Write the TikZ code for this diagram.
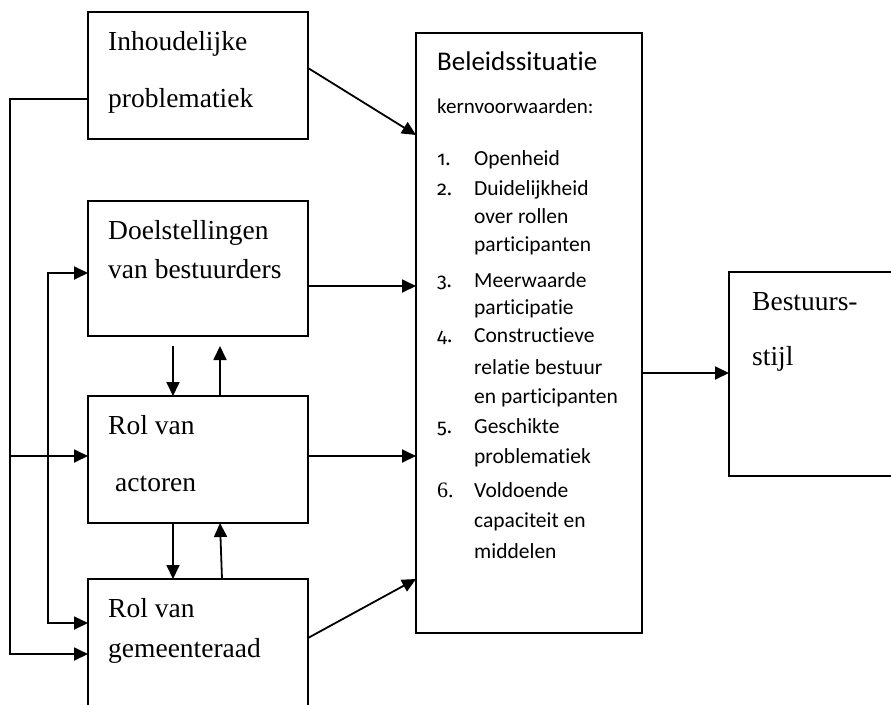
\documentclass[tikz,border=0pt]{standalone}
\usepackage{fontspec}
\setmainfont{Liberation Serif}
\newfontfamily\sansf[Ligatures=NoCommon]{Carlito}
\newfontfamily\numf[Numbers=OldStyle]{Fira Sans}
\usetikzlibrary{arrows.meta}
\newcommand\serifsz{\fontsize{27.5pt}{32pt}\selectfont}
\newcommand\itemsz{\fontsize{21.5pt}{26pt}\selectfont}
\begin{document}
\begin{tikzpicture}[x=1pt,y=-1pt,
  box/.style={draw, line width=1.6pt, inner sep=0pt, outer sep=0pt},
  ln/.style={line width=1.8pt},
  arr/.style={line width=1.8pt, -{Triangle[length=14pt,width=13pt]}},
  txt/.style={inner sep=0pt, anchor=base west, font=\serifsz},
  stxt/.style={inner sep=0pt, anchor=base west, font=\sansf\itemsz},
  ntxt/.style={inner sep=0pt, anchor=base west, font=\numf\fontsize{20pt}{24pt}\selectfont}]
\useasboundingbox (0,0) rectangle (891,704);
% boxes
\node[box, minimum width=220pt, minimum height=127pt] (b1) at (198,75.5) {};
\node[box, minimum width=220pt, minimum height=135pt] (b2) at (198,268.5) {};
\node[box, minimum width=220pt, minimum height=127pt] (b3) at (198,459.5) {};
\node[box, minimum width=220pt, minimum height=141pt] (b4) at (198,649.5) {};
\node[box, minimum width=226pt, minimum height=600pt] (big) at (529,333) {};
\node[box, minimum width=171pt, minimum height=204pt] (b6) at (814.5,374) {};
% texts
\node[txt] (t1a) at (108,50) {Inhoudelijke};
\node[txt] (t1b) at (108,107) {problematiek};
\node[txt] (t2a) at (108,239) {Doelstellingen};
\node[txt] (t2b) at (108,278) {van bestuurders};
\node[txt] (t3a) at (108,434) {Rol van};
\node[txt] (t3b) at (115,491) {actoren};
\node[txt] (t4a) at (108,617) {Rol van};
\node[txt] (t4b) at (108,657) {gemeenteraad};
\node[txt] (t6a) at (752,310) {Bestuurs-};
\node[txt] (t6b) at (752,365) {stijl};
\node[stxt, font=\sansf\fontsize{27pt}{32pt}\selectfont] (h1) at (437,70) {Beleidssituatie};
\node[stxt, font=\sansf\fontsize{21pt}{26pt}\selectfont] (h2) at (437,113) {kernvoorwaarden:};
\node[ntxt] (n1) at (437,165) {1.};
\node[stxt] (i1) at (474,165) {Openheid};
\node[ntxt] (n2) at (437,195) {2.};
\node[stxt] (i2a) at (474,195) {Duidelijkheid};
\node[stxt] (i2b) at (474,223) {over rollen};
\node[stxt] (i2c) at (474,251) {participanten};
\node[ntxt] (n3) at (437,287) {3.};
\node[stxt] (i3a) at (474,287) {Meerwaarde};
\node[stxt] (i3b) at (474,314) {participatie};
\node[ntxt] (n4) at (437,342) {4.};
\node[stxt] (i4a) at (474,342) {Constructieve};
\node[stxt] (i4b) at (474,374) {relatie bestuur};
\node[stxt] (i4c) at (474,403) {en participanten};
\node[ntxt] (n5) at (437,433) {5.};
\node[stxt] (i5a) at (474,433) {Geschikte};
\node[stxt] (i5b) at (474,463) {problematiek};
\node[txt, font=\fontsize{22pt}{26pt}\selectfont] (n6) at (437,497) {6.};
\node[stxt] (i6a) at (474,497) {Voldoende};
\node[stxt] (i6b) at (474,527) {capaciteit en};
\node[stxt] (i6c) at (474,558) {middelen};
% left feedback lines
\draw[arr] (b1.west |- 0,99) -- (10,99) -- (10,654) -- (b4.west |- 0,654);
\draw[arr] (10,456) -- (b3.west |- 0,456);
\draw[ln, {Triangle[length=14pt,width=13pt]}-{Triangle[length=14pt,width=13pt]}]
  (b2.west |- 0,273) -- (48,273) -- (48,623) -- (b4.west |- 0,623);
% vertical arrows between boxes
\draw[arr] (173,346) -- (173,0 |- b3.north);
\draw[arr] (220,0 |- b3.north) -- (220,346);
\draw[arr] (173,0 |- b3.south) -- (173,0 |- b4.north);
\draw[arr] (222,0 |- b4.north) -- (220,0 |- b3.south);
% arrows to the policy box
\draw[arr] (b1.east |- 0,68) -- (big.west |- 0,135);
\draw[arr] (b2.east |- 0,286) -- (big.west |- 0,286);
\draw[arr] (b3.east |- 0,456) -- (big.west |- 0,456);
\draw[arr] (b4.east |- 0,638) -- (big.west |- 0,579);
\draw[arr] (big.east |- 0,373) -- (b6.west |- 0,373);
\end{tikzpicture}
\end{document}
